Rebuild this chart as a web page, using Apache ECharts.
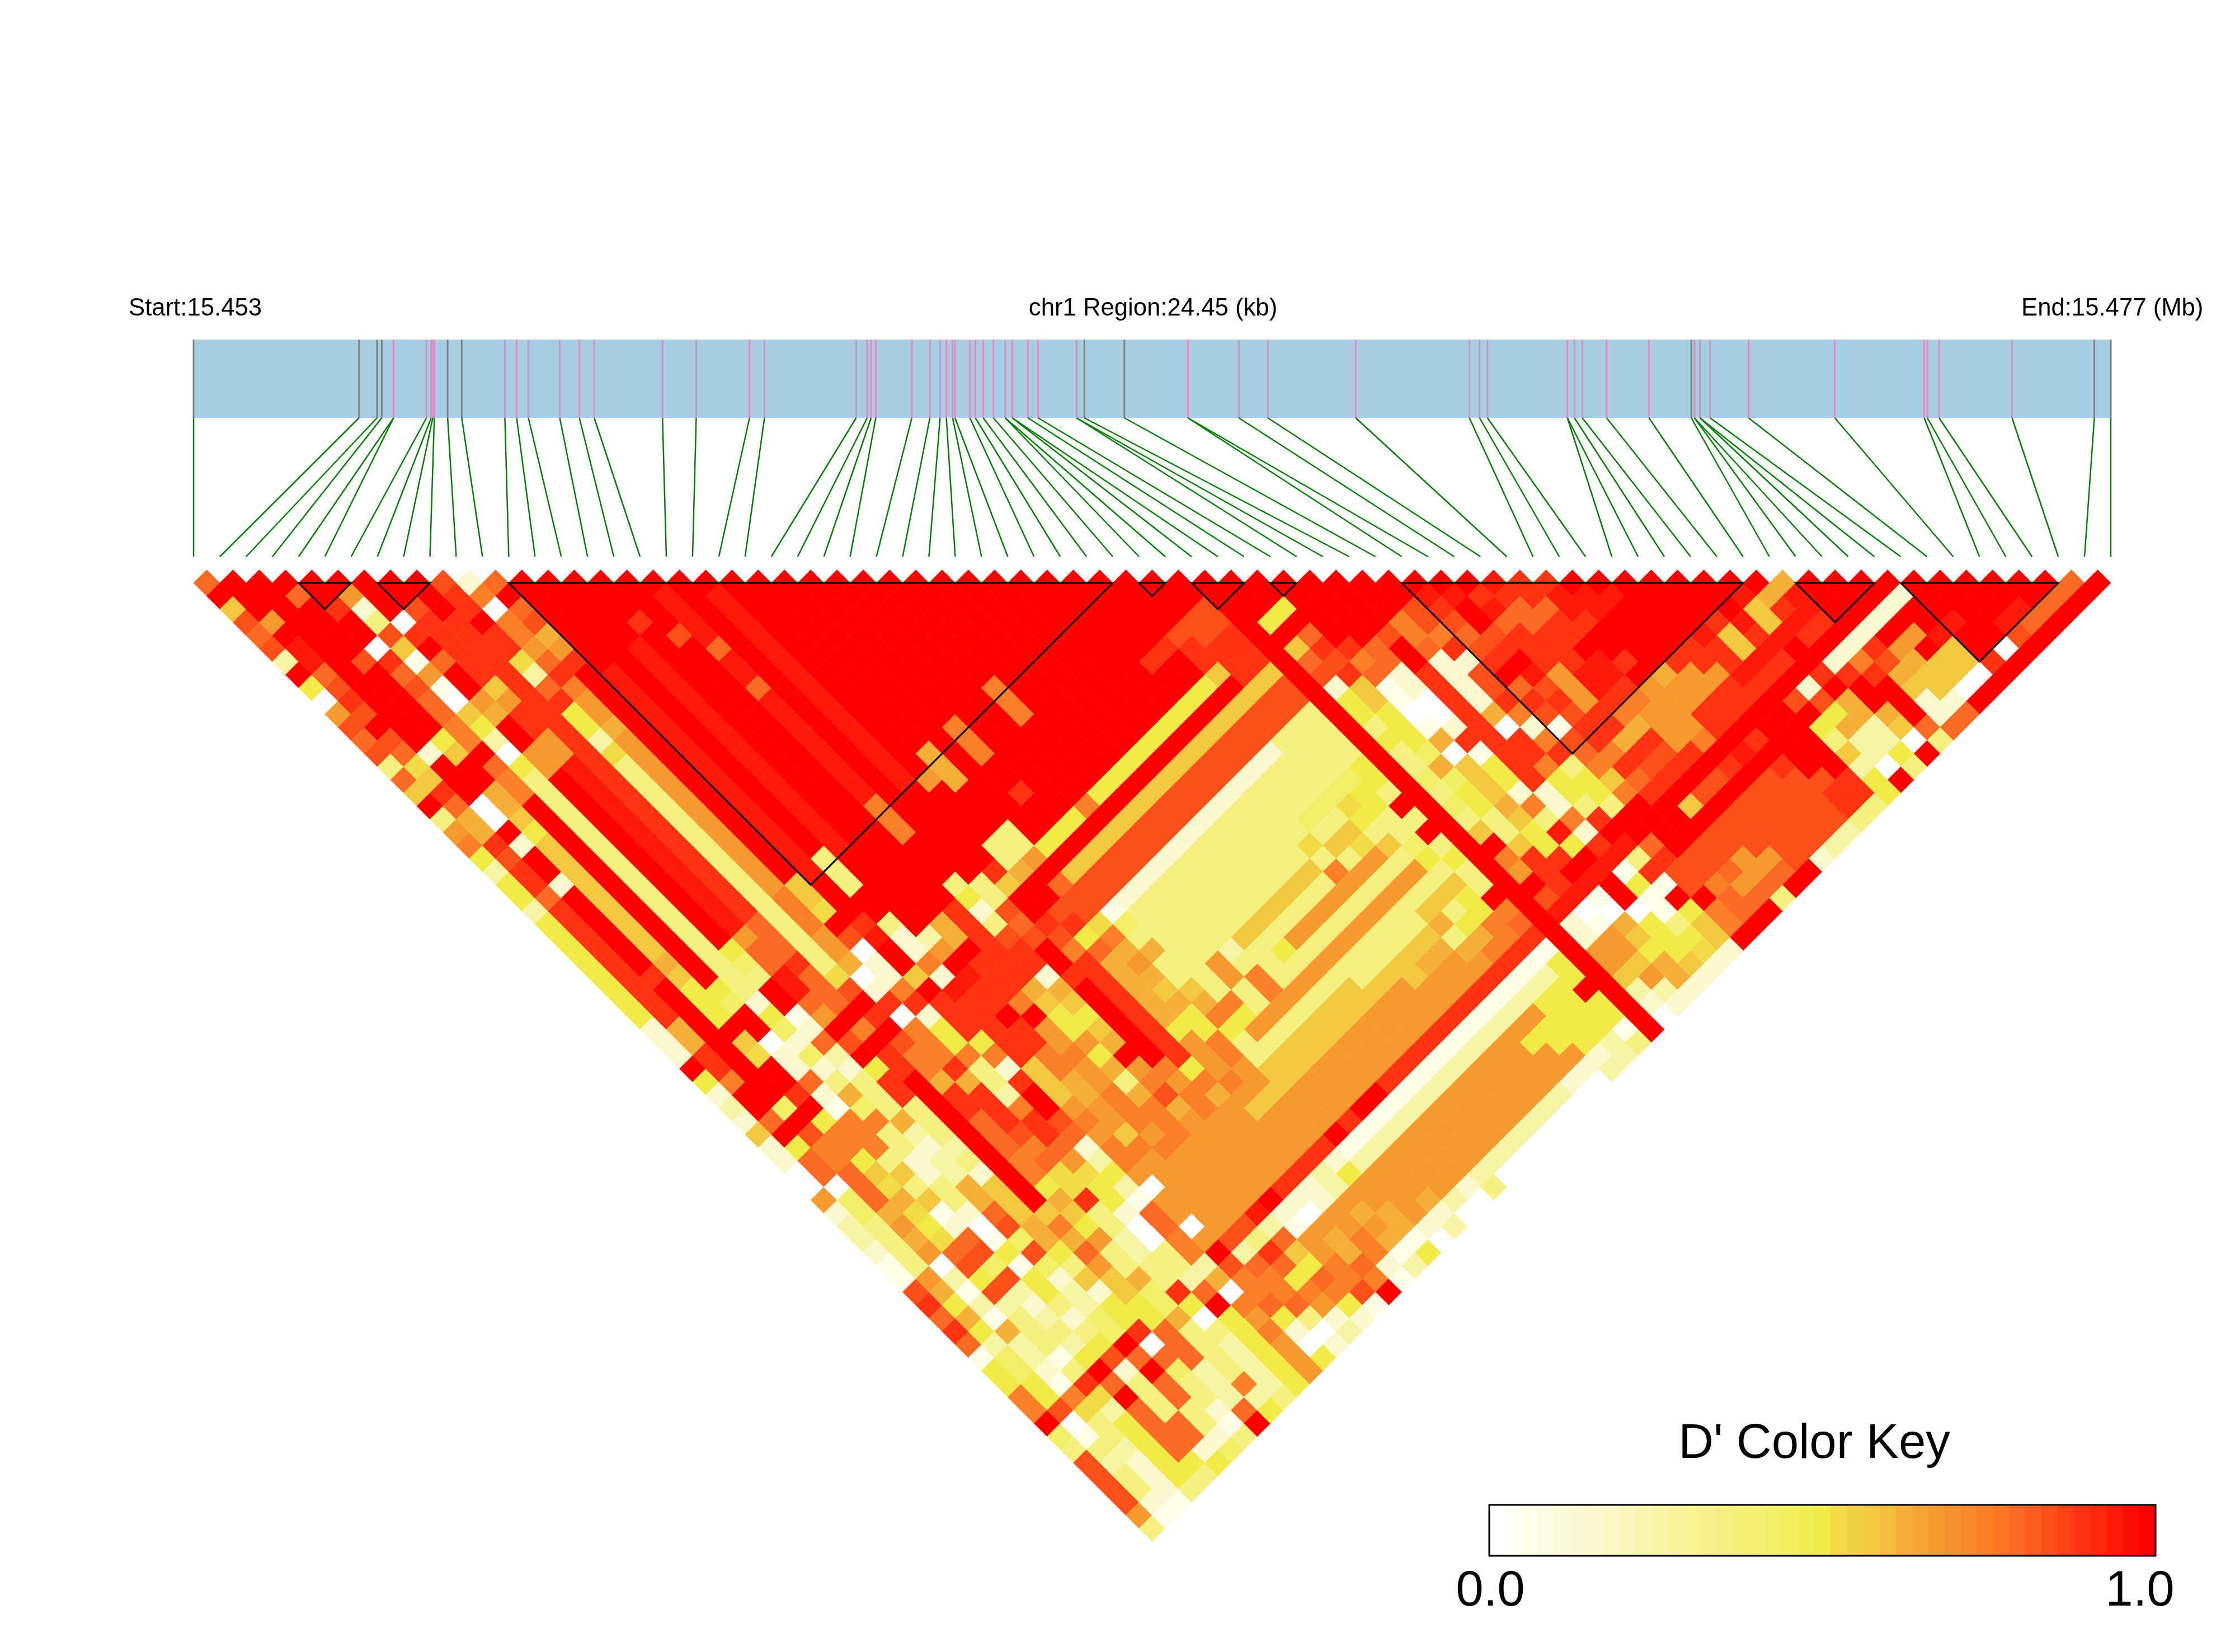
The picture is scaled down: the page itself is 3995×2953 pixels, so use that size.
<!DOCTYPE html>
<html><head><meta charset="utf-8">
<style>html,body{margin:0;padding:0;background:#fff}#c{width:3995px;height:2953px}</style>
<script src="https://cdn.jsdelivr.net/npm/echarts@6/dist/echarts.min.js"></script></head>
<body><div id="c"></div>
<script>
const snpKb=[0,2.11,2.34,2.40,2.55,2.55,2.97,3.03,3.05,3.07,3.24,3.42,3.97,4.12,4.27,4.67,4.92,5.11,5.98,6.41,7.09,7.28,8.45,8.59,8.64,8.70,9.16,9.39,9.52,9.60,9.68,9.71,9.90,9.97,10.07,10.20,10.35,10.35,10.44,10.44,10.64,10.77,11.26,11.26,11.36,11.87,12.68,12.68,13.33,13.70,14.82,16.27,16.40,16.50,17.52,17.52,17.61,17.71,18.02,18.56,19.10,19.14,19.14,19.21,19.21,19.34,19.83,20.93,22.07,22.11,22.26,23.19,24.24,24.45];
const graySnps=[0,1,2,3,10,11,44,45,60,72,73];
const ldBlocks=[[4,6],[7,9],[12,35],[36,37],[38,40],[41,42],[46,59],[61,64],[65,71]];
// letter -> D' colour-key step (0..40)
const levelCodes={w:0,d:2,e:6,f:10,g:14,h:17,i:20,j:21,k:23,l:25,m:27,n:30,o:32,p:34,q:36,r:38,R:40};
const keyStops=[[0,'#FFFFFF'],[2,'#FDFDE8'],[6,'#FAF8CC'],[10,'#F7F4A5'],[14,'#F5F17F'],[17,'#F3EE68'],[20,'#F0EB46'],[21,'#F1DC46'],[23,'#F3C841'],[25,'#F4B038'],[27,'#F69A30'],[30,'#F98027'],[32,'#FA6A22'],[34,'#FC4F19'],[36,'#FD3311'],[38,'#FF1A08'],[40,'#FF0000']];
// D' by left SNP: letter+run length, from the top row downward ('_' = read from ldByRightSnp)
const ldByLeftSnp=[
"oRkpopfRiwmpopgokRgmnifi2fi8e3Riefeke2.2mef2ed2pqoqodi2n2Rhgp4mg",
"R3mRr2opqpRpojkqol2qpq2oq9l2q2nR2oRio2wh2g4mlilifh2i2pwdgfg2ed",
"R13eR3w2ReR2eR6qR9hRpn2o3lmlmwfdfdlf2ednjg2fe3d",
"RoR4pR5ikR2l2kik9lki3RkjR2qRin2ikjljijopipfg3dgqjfi5g",
"R2qR2wqopo2n2Ron2R14ihR2we2oedn3gkgkdeophpfefgfiRoRo4ig",
"Rmegpkdmdwkifwig17eihehKeglhng2e2g2ewdidi2gegipeg3o2ei".replace('K',''),
"R3wqRoR2mlR2m2R13ihgR2deofeg3lfef2l2ophphef2h2RoRo2g2eh",
"R2pq5kmq2m2r13mo2r2omRpRiq2g3fgek3l2igkei2qwohg2edg",
"R3q23o3qo3RnRq2R10knlomk2i2o3f3oR",
"pq2Rq2jfoqi2fjg16jpRqRpn2lq2o3n2ilkimg2lh2lg4nfi",
"enwn2moqnm2lm12n3m2lweqwn3qlq3pnoj2qg2f2g2qiwgf4g",
"oRoplmqR16k2jRpwe2nqei2ng2fnq2omji2ew2g2foRi6",
"R7r16R3qrR2kRq3ineqR2poefifdo2n2flwnmnm3",
"R21g3R2ge2","R5r16","R3qR16","R4pR14","Rr4or2or8n3","R17_14R6","Rr15_14q6","R15m","R13l3","R13","R11n3","R11","R10","R8n3","R8","R7","R6","R5","R4","R3","R2","R",
"","","","R35","","","","","_5R2q9","","","","","","","","","","","","_10R5","_4k2","","_2k2","","_8R3"
];
// D' by right SNP (top row index 35..72): letter+run length, from the top row downward
const ldByRightSnp=[
"R23","R13nR9g","R25","R25e","R2p3q2R9qR9e","R3p2qR13g2R2gR3e","R4q3R13g2qgiqlfe","R2i2Rq2ki9ni3mlkgeqlmn","R6q2R17pgqR2e","R4okRk16oR2opq2r2","R5qoRp18qpq5","R5qp2Rp17qpRq5",
"RrpnponqeRg3e12djinRelnRq","RrqpnRo2kiRg15hnoq2lkRq2","rqRpnoqedkiRg16l3k2imq2","q2rRoqeqedigRg15lml3i2mnk","q2o2p2e2qw2i2Rih4g11l3ikmn2k","Rro2q3peqwdigRi2jg2jg10kl2ilimlk","Rr2q3R2peqelhgRgi2k2gk6fmgkl2iqRlmlm",
"Rr2q4roqleqwlhgRg2jgng7mgli2mRmgnmn2","R6qmpqnwqdkhgRg2km7igngn2imqn2lnm2","R6r2mqpeqwikihgRhg3g7ngi2nmimpn2knm2","R6qr2mpdnqdikigRgim13gnmn2lnmn2","R8qq3pqndelgkRig15mnlnmn2m2","RrRqrq2lmn2q2ogienkgRg2k3g5k7m8","l2krkq2m4l2n2i2egiknRgiglk14m7",
"Rrqkqoqm5q3kignriqmnRi2gl2km19","R2r6q3m2p2ongqeiq2Rn3l2m20","R3q2Rq6nq4R3qR2qpRon2m22","R20r6Rq12R2qRq4Rrp2R","Re6qepqRqrqp2kR2ogdRdweRd16efe3fgfp","R5qnqRpR11q2iRwdeRif15ifewdoqon","R4m2pqRli2fRqp8d2wlm2Ri3m18kon2","R3r2Rl2pRl2gkRp9Rdikm3Ri4m12lmlmi2non","R5k4Rlf2kRp6monRigi2k2Ri4m12lmnlnonoi","R2r2R2k3eRkf3q2p4m3onki2lmfRi3m11lml2nonnmge",
"o4pwqw2e2owiwiq2p4o4nkjklfeRdfe3f7efe2d2enpie","R10o2gRgRig2f2eR2gR3e5.Rgf2.8g.2f.ifdRdefei"
];
// single-cell readings [left SNP, depth, letter]
const ldCellFixes=[];

const W=3995,H=2953,N=73;
const hex=c=>[1,3,5].map(i=>parseInt(c.substr(i,2),16));
function keyColor(s){for(let k=1;k<keyStops.length;k++){const [a,ca]=keyStops[k-1],[b,cb]=keyStops[k];if(s<=b){const t=(s-a)/(b-a),A=hex(ca),B=hex(cb);return 'rgb('+A.map((v,q)=>Math.round(v+(B[q]-v)*t)).join(',')+')';}}return '#f00';}
function runs(str){const out=[];const re=/([a-zA-Z._])(\d*)/g;let m;while((m=re.exec(str))){const n=m[2]?+m[2]:1;for(let q=0;q<n;q++)out.push(m[1]);}return out;}
const cells=new Map();
ldByRightSnp.forEach((s,idx)=>{const j=35+idx;runs(s).forEach((c,d)=>{const i=j-d;if(i>=0)cells.set(i+','+d,c);});});
ldByLeftSnp.forEach((s,i)=>{runs(s).forEach((c,d)=>{if(c!=='_'&&i+d<N)cells.set(i+','+d,c);});});
ldCellFixes.forEach(([i,d,c])=>cells.set(i+','+d,c));
const ldData=[];cells.forEach((c,k)=>{if(c==='.')return;const [i,d]=k.split(',').map(Number);ldData.push([i,d,levelCodes[c]/40]);});

const chart=echarts.init(document.getElementById('c'),null,{renderer:'canvas',width:W,height:H});
const font='"Liberation Sans",Arial,sans-serif';
const txt=(x,y,t,size,align)=>({type:'text',x,y,silent:true,style:{text:t,fill:'#000',font:size+'px '+font,textAlign:align||'left'}});
const keySteps=Array.from({length:41},(_,k)=>k);
chart.setOption({animation:false,backgroundColor:'#fff',
 grid:[{left:346,width:3427,top:1042-23.475,height:74*23.475,show:false},
       {left:346,width:3427,top:607,height:388,show:false},
       {left:2662,width:1191,top:2690,height:91,show:true,backgroundColor:'transparent',borderColor:'#000',borderWidth:3,z:9}],
 xAxis:[{gridIndex:0,type:'value',min:0,max:N,show:false},{gridIndex:1,type:'value',min:0,max:24.45,show:false},{gridIndex:2,type:'value',min:0,max:41,show:false}],
 yAxis:[{gridIndex:0,type:'value',min:-1,max:73,inverse:true,show:false},{gridIndex:1,type:'value',min:0,max:388,inverse:true,show:false},{gridIndex:2,type:'value',min:0,max:1,show:false}],
 graphic:[txt(230,530,'Start:15.453',43.7),txt(2061,530,'chr1 Region:24.45 (kb)',43.7,'center'),txt(3613,530,'End:15.477 (Mb)',43.7),
          txt(3243,2539,"D' Color Key",87,'center'),txt(2664,2801,'0.0',89,'center'),txt(3825,2801,'1.0',89,'center')],
 series:[
 {type:'custom',coordinateSystem:'cartesian2d',xAxisIndex:0,yAxisIndex:0,data:ldData,silent:true,clip:false,
  renderItem:(p,api)=>{const i=api.value(0),d=api.value(1),v=api.value(2),x=i+.5+d/2,col=keyColor(v*40);
   return {type:'polygon',shape:{points:[[x-.5,d],[x,d-1],[x+.5,d],[x,d+1]].map(q=>api.coord(q))},style:{fill:col,stroke:col,lineWidth:0.7}};}},
 {type:'custom',xAxisIndex:0,yAxisIndex:0,data:ldBlocks,silent:true,clip:false,z:5,
  renderItem:(p,api)=>{const a=api.value(0),b=api.value(1);
   return {type:'polygon',shape:{points:[[a,0],[b,0],[(a+b)/2,b-a]].map(q=>api.coord(q))},style:{fill:'none',stroke:'#000',lineWidth:3}};}},
 {type:'custom',xAxisIndex:1,yAxisIndex:1,data:[[0,24.45,0,140]],silent:true,clip:false,
  renderItem:(p,api)=>{const a=api.coord([api.value(0),api.value(2)]),b=api.coord([api.value(1),api.value(3)]);
   return {type:'rect',shape:{x:a[0],y:a[1],width:b[0]-a[0],height:b[1]-a[1]},style:{fill:'#A6CEE3'}};}},
 {type:'custom',xAxisIndex:1,yAxisIndex:1,data:snpKb.map((v,k)=>[v,k]),silent:true,clip:false,z:3,
  renderItem:(p,api)=>{const v=api.value(0),k=api.value(1);const a=api.coord([v,0]),b=api.coord([v,140]),c=api.coord([k*24.45/N,388]);
   return {type:'group',children:[
    {type:'line',shape:{x1:a[0],y1:a[1],x2:b[0],y2:b[1]},style:{stroke:graySnps.includes(k)?'#808080':'#E48ABF',lineWidth:3}},
    {type:'line',shape:{x1:b[0],y1:b[1],x2:c[0],y2:c[1]},style:{stroke:'#008000',lineWidth:2.5}}]};}},
 {type:'custom',xAxisIndex:2,yAxisIndex:2,data:keySteps.map(k=>[k]),silent:true,
  renderItem:(p,api)=>{const k=api.value(0),a=api.coord([k,1]),b=api.coord([k+1,0]);
   return {type:'rect',shape:{x:a[0],y:a[1],width:b[0]-a[0]+.5,height:b[1]-a[1]},style:{fill:keyColor(k)}};}}
 ]});
</script></body></html>
